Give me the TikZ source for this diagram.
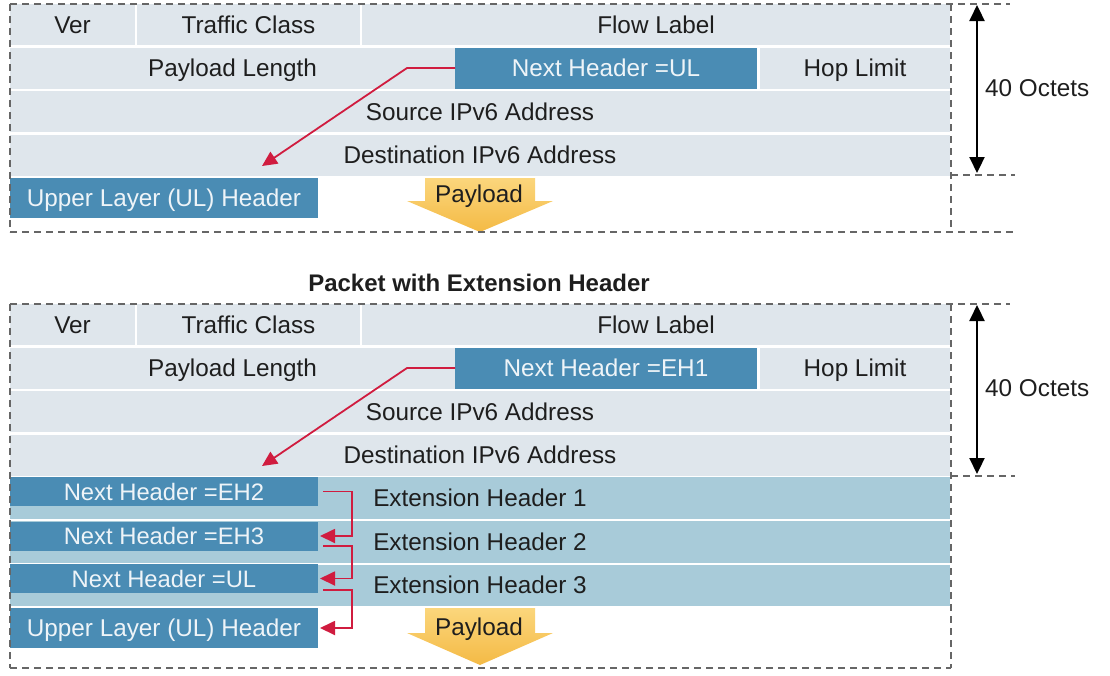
\documentclass[tikz,border=0pt]{standalone}
\usepackage{fontspec}
\setmainfont{Liberation Sans}
\usetikzlibrary{arrows.meta,calc}

\definecolor{rowgray}{HTML}{DFE6EC}
\definecolor{darkbox}{HTML}{4A8CB4}
\definecolor{ehblue}{HTML}{A8CBD9}
\definecolor{boxtext}{HTML}{EEF4F8}
\definecolor{txt}{HTML}{1E1E1E}
\definecolor{ptr}{HTML}{D01C3F}
\definecolor{dashgray}{HTML}{666666}
\definecolor{paylight}{HTML}{FBD67C}
\definecolor{paydark}{HTML}{F4BA45}

\tikzset{
  cell/.style={rectangle, fill=rowgray, inner sep=0pt, outer sep=0pt,
    text=txt, font=\fontsize{24.3}{27}\selectfont,
    text height=17.5pt, text depth=0pt, anchor=center},
  dark/.style={cell, fill=darkbox, text=boxtext},
  ehrow/.style={cell, fill=ehblue},
  sz/.style 2 args={minimum width=#1pt, minimum height=#2pt},
  frame/.style={draw=dashgray, line width=1.4pt, dash pattern=on 7pt off 5pt},
  redline/.style={draw=ptr, line width=1.8pt, -{Triangle[length=15pt,width=14pt]}},
  octarrow/.style={draw=black, line width=2.2pt,
    {Triangle[length=16pt,width=15pt]}-{Triangle[length=16pt,width=15pt]}},
  lbl/.style={inner sep=0pt, text=txt, font=\fontsize{24.3}{27}\selectfont,
    text height=17.5pt, text depth=0pt},
  payarrow/.style={top color=paylight, bottom color=paydark, draw=none}
}

\begin{document}
\begin{tikzpicture}[x=1pt,y=-1pt]
\useasboundingbox (0,0) rectangle (1110,675);

% ---------------- plain IPv6 packet ----------------
\node[cell, sz={125}{41}]  (verT)  at (72.5,24.5) {Ver};
\node[cell, sz={223}{41}]  (tcT)   at (248.5,24.5) {Traffic Class};
\node[cell, sz={588}{41}]  (flowT) at (656,24.5) {Flow Label};
\node[cell, sz={445}{41}]  (plT)   at (232.5,68) {Payload Length};
\node[dark, sz={302}{41}]  (nhT)   at (606,68) {Next Header =UL};
\node[cell, sz={190}{41}]  (hopT)  at (855,68) {Hop Limit};
\node[cell, sz={940}{41}]  (srcT)  at (480,111.5) {Source IPv6 Address};
\node[cell, sz={940}{41}]  (dstT)  at (480,155) {Destination IPv6 Address};
\node[dark, sz={308}{40}]  (ulT)   at (164,198) {Upper Layer (UL) Header};

\shade[payarrow] (425,178) -- (535,178) -- (535,201) -- (553,201) -- (480,232)
  -- (407,201) -- (425,201) -- cycle;
\node[lbl] (payT) at (479,194) {Payload};

\coordinate (ptrT) at (262,166);
\draw[redline] (nhT.west) -- ++(-48,0) -- (ptrT);

\draw[frame] (10,4) -- (1010,4);
\draw[frame] (10,4) -- (10,232);
\draw[frame] (951,4) -- (951,232);
\draw[frame] (951,175) -- (1015,175);
\draw[frame] (10,232) -- (1015,232);

\coordinate (octTa) at (977,5);
\coordinate (octTb) at (977,173);
\draw[octarrow] (octTa) -- (octTb);
\node[lbl, anchor=west] (octT) at (985,88) {40 Octets};

% ---------------- packet with extension headers ----------------
\node[font=\bfseries\fontsize{24}{27}\selectfont, text=txt, inner sep=0pt]
  (title) at (479,283) {Packet with Extension Header};

\node[cell, sz={125}{41}]  (verB)  at (72.5,324.5) {Ver};
\node[cell, sz={223}{41}]  (tcB)   at (248.5,324.5) {Traffic Class};
\node[cell, sz={588}{41}]  (flowB) at (656,324.5) {Flow Label};
\node[cell, sz={445}{41}]  (plB)   at (232.5,368) {Payload Length};
\node[dark, sz={302}{41}]  (nhB)   at (606,368) {Next Header =EH1};
\node[cell, sz={190}{41}]  (hopB)  at (855,368) {Hop Limit};
\node[cell, sz={940}{41}]  (srcB)  at (480,411.5) {Source IPv6 Address};
\node[cell, sz={940}{41}]  (dstB)  at (480,455) {Destination IPv6 Address};

\node[ehrow, sz={940}{42}] (eh1) at (480,498) {Extension Header 1};
\node[ehrow, sz={940}{42}] (eh2) at (480,542) {Extension Header 2};
\node[ehrow, sz={940}{41}] (eh3) at (480,585) {Extension Header 3};

\node[dark, sz={308}{29}, font=\fontsize{23.8}{26}\selectfont, text height=17pt]
  (nh1) at (164,491.5) {Next Header =EH2};
\node[dark, sz={308}{29}, font=\fontsize{23.8}{26}\selectfont, text height=17pt]
  (nh2) at (164,536) {Next Header =EH3};
\node[dark, sz={308}{29}, font=\fontsize{23.8}{26}\selectfont, text height=17pt]
  (nh3) at (164,578.5) {Next Header =UL};
\node[dark, sz={308}{40}]  (ulB) at (164,628) {Upper Layer (UL) Header};

\shade[payarrow] (425,608) -- (535,608) -- (535,633) -- (553,633) -- (480,665)
  -- (407,633) -- (425,633) -- cycle;
\node[lbl] (payB) at (479,627) {Payload};

\coordinate (ptrB) at (262,466);
\draw[redline] (nhB.west) -- ++(-48,0) -- (ptrB);

% chain of next-header pointers
\coordinate (bus) at (352,0);
\draw[redline] ($(nh1.east)+(5,0)$) -| (bus |- nh2.east) -- ($(nh2.east)+(2,0)$);
\draw[redline] ($(nh2.east)+(5,10)$) -| (bus |- nh3.east) -- ($(nh3.east)+(2,0)$);
\draw[redline] ($(nh3.east)+(5,11.5)$) -| (bus |- ulB.east) -- ($(ulB.east)+(2,0)$);

\draw[frame] (10,304) -- (1010,304);
\draw[frame] (10,304) -- (10,668);
\draw[frame] (951,304) -- (951,668);
\draw[frame] (951,476) -- (1015,476);
\draw[frame] (10,668) -- (951,668);

\coordinate (octBa) at (977,305);
\coordinate (octBb) at (977,474);
\draw[octarrow] (octBa) -- (octBb);
\node[lbl, anchor=west] (octB) at (985,388) {40 Octets};
\end{tikzpicture}
\end{document}
